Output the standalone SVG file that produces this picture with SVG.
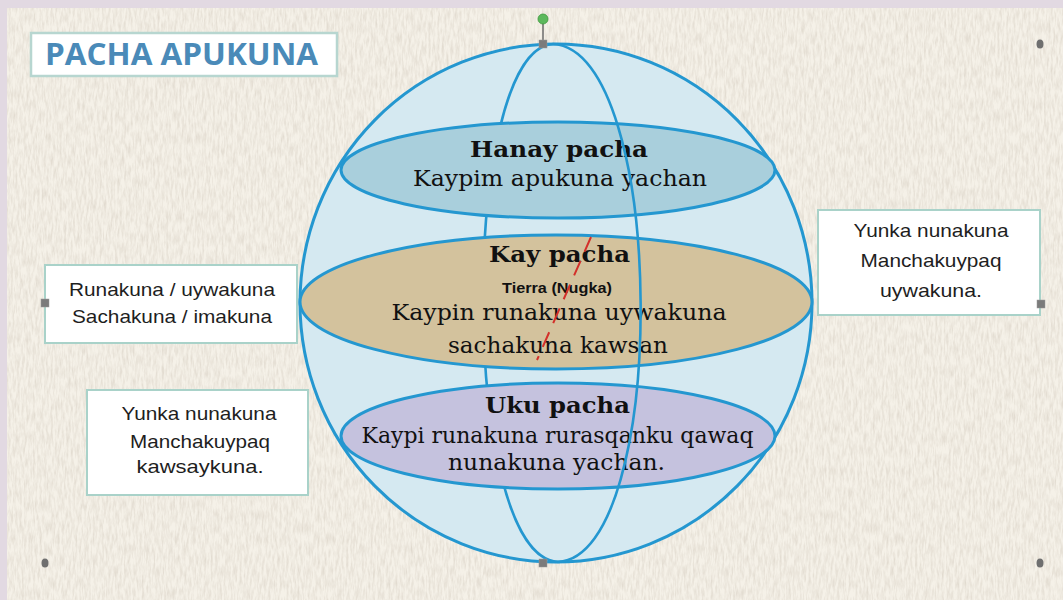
<svg xmlns="http://www.w3.org/2000/svg" width="1063" height="600" viewBox="0 0 1063 600">
  <defs>
    <filter id="paper" x="0" y="0" width="100%" height="100%">
      <feTurbulence type="fractalNoise" baseFrequency="0.45 0.09" numOctaves="3" seed="7" result="n"/>
      <feColorMatrix in="n" type="matrix" values="0 0 0 0 0.62  0 0 0 0 0.56  0 0 0 0 0.48  0 0 0 -1.6 1.05" result="c"/>
      <feComposite in="c" in2="SourceGraphic" operator="in"/>
    </filter>
    <style>
      .sphere { fill: #d5e9f1; stroke: #2497d0; stroke-width: 3; }
      .line { fill: none; stroke: #2497d0; stroke-width: 2.6; }
      .band { stroke: #2497d0; stroke-width: 3; }
      .ser { font-family: "DejaVu Serif", "Liberation Serif", serif; fill: #111; text-anchor: middle; }
      .serb { font-family: "DejaVu Serif", "Liberation Serif", serif; font-weight: bold; fill: #111; text-anchor: middle; }
      .box { fill: #ffffff; stroke: #a9d2c9; stroke-width: 2; }
      .bt { font-family: "Liberation Sans", Arial, sans-serif; font-size: 19px; fill: #1e1e1e; text-anchor: middle; }
      .hsq { fill: #7b7b7b; stroke: #9a9a9a; stroke-width: 0.5; }
      .hdot { fill: #6f6f6f; }
    </style>
  </defs>

  <!-- background -->
  <rect x="0" y="0" width="1063" height="600" fill="#e2d9e2"/>
  <rect x="7" y="8" width="1056" height="592" fill="#f5f1e8"/>
  <rect x="7" y="8" width="1056" height="592" fill="#000" filter="url(#paper)" opacity="0.55"/>

  <!-- title -->
  <g id="title">
    <rect x="31" y="33" width="306" height="43" fill="#ffffff" stroke="#b7d6d0" stroke-width="2.5"/>
    <text x="181.5" y="65" font-family="'Open Sans', 'Liberation Sans', sans-serif" font-weight="700" font-size="30" fill="#4a8ab8" text-anchor="middle" textLength="273" lengthAdjust="spacingAndGlyphs">PACHA APUKUNA</text>
  </g>

  <!-- sphere -->
  <g id="sphere">
    <ellipse class="sphere" cx="556" cy="303" rx="256" ry="259"/>
    <!-- left half of meridian (behind bands) -->
    <path class="line" d="M 553 44 C 459 50, 459 556, 558 562"/>
  </g>

  <g id="hanay-pacha">
    <ellipse class="band" cx="558" cy="170" rx="217" ry="48" fill="#a9cfdc"/>
    <text class="serb" x="559" y="157" font-size="23" textLength="178" lengthAdjust="spacingAndGlyphs">Hanay pacha</text>
    <text class="ser" x="560" y="186" font-size="22" textLength="294" lengthAdjust="spacingAndGlyphs">Kaypim apukuna yachan</text>
  </g>

  <g id="kay-pacha">
    <ellipse class="band" cx="556" cy="302" rx="256" ry="67" fill="#d3c29d"/>
    <text class="serb" x="559.5" y="262" font-size="23" textLength="141" lengthAdjust="spacingAndGlyphs">Kay pacha</text>
    <text x="557" y="293" font-family="'Liberation Sans', Arial, sans-serif" font-weight="bold" font-size="15" fill="#111" text-anchor="middle" textLength="110" lengthAdjust="spacingAndGlyphs">Tierra (Nugka)</text>
    <text class="ser" x="559" y="320" font-size="22" textLength="335" lengthAdjust="spacingAndGlyphs">Kaypin runakuna uywakuna</text>
    <text class="ser" x="558" y="353" font-size="22" textLength="220" lengthAdjust="spacingAndGlyphs">sachakuna kawsan</text>
    <line x1="591" y1="237" x2="537" y2="360" stroke="#d3302a" stroke-width="2" stroke-dasharray="16 10"/>
  </g>

  <g id="uku-pacha">
    <ellipse class="band" cx="558" cy="436" rx="217" ry="53" fill="#c5c2de"/>
    <text class="serb" x="557.5" y="413" font-size="23" textLength="145" lengthAdjust="spacingAndGlyphs">Uku pacha</text>
    <text class="ser" x="557.5" y="443" font-size="22" textLength="392" lengthAdjust="spacingAndGlyphs">Kaypi runakuna rurasqanku qawaq</text>
    <text class="ser" x="556.5" y="470" font-size="22" textLength="217" lengthAdjust="spacingAndGlyphs">nunakuna yachan.</text>
  </g>

  <g id="meridian-front">
    <path class="line" d="M 553 44 C 668 50, 670 556, 558 562"/>
  </g>

  <!-- side boxes -->
  <g id="box-runakuna">
    <rect class="box" x="45" y="265" width="252" height="78"/>
    <text class="bt" x="172" y="296" textLength="206" lengthAdjust="spacingAndGlyphs">Runakuna / uywakuna</text>
    <text class="bt" x="172" y="323" textLength="200" lengthAdjust="spacingAndGlyphs">Sachakuna / imakuna</text>
  </g>

  <g id="box-kawsaykuna">
    <rect class="box" x="87" y="390" width="221" height="105"/>
    <text class="bt" x="199" y="420" textLength="155" lengthAdjust="spacingAndGlyphs">Yunka nunakuna</text>
    <text class="bt" x="200" y="448" textLength="140" lengthAdjust="spacingAndGlyphs">Manchakuypaq</text>
    <text class="bt" x="200" y="473" textLength="127" lengthAdjust="spacingAndGlyphs">kawsaykuna.</text>
  </g>

  <g id="box-uywakuna">
    <rect class="box" x="818" y="210" width="222" height="105"/>
    <text class="bt" x="931" y="237" textLength="155" lengthAdjust="spacingAndGlyphs">Yunka nunakuna</text>
    <text class="bt" x="931" y="267" textLength="141" lengthAdjust="spacingAndGlyphs">Manchakuypaq</text>
    <text class="bt" x="931" y="297" textLength="102" lengthAdjust="spacingAndGlyphs">uywakuna.</text>
  </g>

  <!-- selection handles -->
  <g id="selection-handles">
    <line x1="543" y1="22" x2="543" y2="41" stroke="#6c6c6c" stroke-width="1.5"/>
    <circle cx="543" cy="19" r="5" fill="#5cb85c" stroke="#3d9a3d" stroke-width="0.8"/>
    <rect class="hsq" x="539" y="40" width="8" height="8"/>
    <rect class="hsq" x="539" y="559" width="8" height="8"/>
    <rect class="hsq" x="41" y="299" width="8" height="8"/>
    <rect class="hsq" x="1037" y="300" width="8" height="8"/>
    <ellipse class="hdot" cx="1040" cy="44" rx="3.5" ry="4.5"/>
    <ellipse class="hdot" cx="45" cy="563" rx="3.5" ry="4.5"/>
    <ellipse class="hdot" cx="1040" cy="563" rx="3.5" ry="4.5"/>
  </g>
</svg>
